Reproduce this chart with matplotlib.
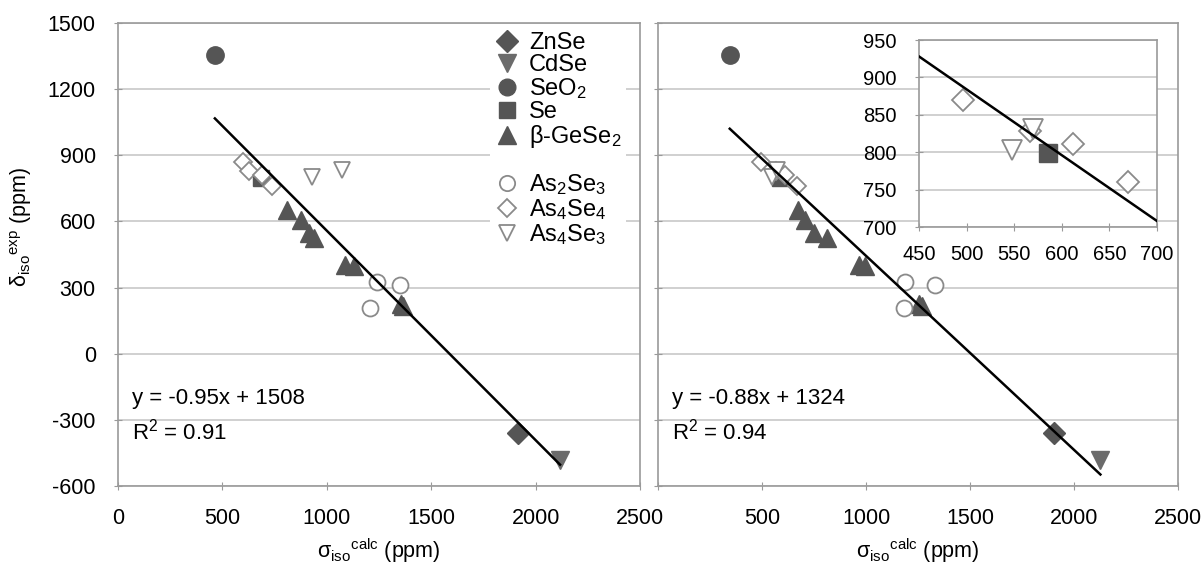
import matplotlib
matplotlib.use('Agg')
import matplotlib.pyplot as plt
from matplotlib.lines import Line2D

plt.rcParams['font.family'] = ['Liberation Sans', 'DejaVu Sans']
plt.rcParams['mathtext.fontset'] = 'custom'
plt.rcParams['mathtext.rm'] = 'Liberation Sans'
plt.rcParams['mathtext.it'] = 'Liberation Sans:italic'
plt.rcParams['axes.unicode_minus'] = False

# experimental shifts (same in both panels), calc shieldings per panel
zn_exp = [-361]
zn_left = [1916]
zn_right = [1903]

cd_exp = [-484]
cd_left = [2117]
cd_right = [2127]

seo2_exp = [1357]
seo2_left = [464]
seo2_right = [345]

se_exp = [799]
se_left = [685]
se_right = [586]

gese2_exp = [650, 608, 548, 523, 403, 397, 224, 218]
gese2_left = [810, 875, 913, 941, 1086, 1132, 1355, 1365]
gese2_right = [672, 709, 752, 811, 964, 993, 1253, 1269]

as2se3_exp = [325, 312, 209]
as2se3_left = [1242, 1350, 1205]
as2se3_right = [1188, 1334, 1181]

as4se4_exp = [870, 828, 811, 760]
as4se4_left = [601, 626, 688, 738]
as4se4_right = [496, 567, 612, 670]

as4se3_exp = [803, 831]
as4se3_left = [931, 1075]
as4se3_right = [548, 570]

fit_left = (-0.95, 1508, 0.91)
fit_right = (-0.88, 1324, 0.94)

x_ticks = [0, 500, 1000, 1500, 2000, 2500]
y_ticks = [-600, -300, 0, 300, 600, 900, 1200, 1500]
inset_xticks = [450, 500, 550, 600, 650, 700]
inset_yticks = [700, 750, 800, 850, 900, 950]

dark = '#555555'
cdcol = '#6b6b6b'
opencol = '#8a8a8a'
gridcol = '#c8c8c8'
framecol = '#9a9a9a'


def draw_points(ax, xs, scale=1.0):
    # xs: dict of calc values for this panel
    ax.plot(xs['zn'], zn_exp, 'D', color=dark, ms=11 * scale, ls='none')
    ax.plot(xs['cd'], cd_exp, 'v', color=cdcol, ms=13 * scale, ls='none')
    ax.plot(xs['seo2'], seo2_exp, 'o', color=dark, ms=12.5 * scale, ls='none')
    ax.plot(xs['se'], se_exp, 's', color=dark, ms=11 * scale, ls='none')
    ax.plot(xs['gese2'], gese2_exp, '^', color=dark, ms=13 * scale, ls='none')
    ax.plot(xs['as2se3'], as2se3_exp, 'o', mfc='white', mec=opencol, mew=1.3, ms=11.5 * scale, ls='none')
    ax.plot(xs['as4se4'], as4se4_exp, 'D', mfc='white', mec=opencol, mew=1.3, ms=9.5 * scale, ls='none')
    ax.plot(xs['as4se3'], as4se3_exp, 'v', mfc='white', mec=opencol, mew=1.3, ms=12 * scale, ls='none')


def style_axes(ax):
    for s in ax.spines.values():
        s.set_color(framecol)
        s.set_linewidth(1.2)
    ax.set_xlim(0, 2500)
    ax.set_ylim(-600, 1500)
    ax.set_xticks(x_ticks)
    ax.set_yticks(y_ticks)
    ax.yaxis.grid(True, color=gridcol, lw=1.2)
    ax.set_axisbelow(True)
    ax.tick_params(direction='inout', length=6, color=framecol, labelsize=15.5, pad=13)


left_data = dict(zn=zn_left, cd=cd_left, seo2=seo2_left, se=se_left, gese2=gese2_left,
                 as2se3=as2se3_left, as4se4=as4se4_left, as4se3=as4se3_left)
right_data = dict(zn=zn_right, cd=cd_right, seo2=seo2_right, se=se_right, gese2=gese2_right,
                  as2se3=as2se3_right, as4se4=as4se4_right, as4se3=as4se3_right)

W, H = 1204, 563
fig = plt.figure(figsize=(W / 100, H / 100), dpi=100)
ax1 = fig.add_axes([118 / W, 1 - 486 / H, 522 / W, 463 / H])
ax2 = fig.add_axes([658 / W, 1 - 486 / H, 520 / W, 463 / H])

for ax, data, fit in [(ax1, left_data, fit_left), (ax2, right_data, fit_right)]:
    style_axes(ax)
    draw_points(ax, data)
    allx = sum(data.values(), [])
    x0, x1 = min(allx), max(allx)
    m, b, r2 = fit
    ax.plot([x0, x1], [m * x0 + b, m * x1 + b], color='black', lw=1.8, zorder=4)
    ax.text(0.027, 0.19, f'y = {m:.2f}x + {b}', transform=ax.transAxes,
            fontsize=16, va='center', ha='left')
    ax.text(0.027, 0.117, f'R$^2$ = {r2:.2f}', transform=ax.transAxes,
            fontsize=16, va='center', ha='left')
    ax.set_xlabel('σ$_{\\mathrm{iso}}$$^{\\mathrm{calc}}$ (ppm)', fontsize=15.5, labelpad=5)

ax1.set_ylabel('δ$_{\\mathrm{iso}}$$^{\\mathrm{exp}}$ (ppm)', fontsize=15.5)
ax1.yaxis.set_label_coords(-0.16, 0.56)
ax2.tick_params(labelleft=False)
ax2.set_xticklabels([''] + [str(t) for t in x_ticks[1:]])

# legend
handles = [
    Line2D([], [], marker='D', color=dark, ls='none', ms=11),
    Line2D([], [], marker='v', color=cdcol, ls='none', ms=13),
    Line2D([], [], marker='o', color=dark, ls='none', ms=12),
    Line2D([], [], marker='s', color=dark, ls='none', ms=11),
    Line2D([], [], marker='^', color=dark, ls='none', ms=13),
    Line2D([], [], ls='none'),
    Line2D([], [], marker='o', mfc='white', mec=opencol, mew=1.3, ls='none', ms=11),
    Line2D([], [], marker='D', mfc='white', mec=opencol, mew=1.3, ls='none', ms=9.5),
    Line2D([], [], marker='v', mfc='white', mec=opencol, mew=1.3, ls='none', ms=12),
]
labels = ['ZnSe', 'CdSe', 'SeO$_2$', 'Se', 'β-GeSe$_2$', '',
          'As$_2$Se$_3$', 'As$_4$Se$_4$', 'As$_4$Se$_3$']
leg = ax1.legend(handles, labels, loc='upper left', bbox_to_anchor=(0.713, 0.99),
                 fontsize=17, frameon=True, facecolor='white', edgecolor='none',
                 framealpha=1, labelspacing=0.0, handlelength=1.0, handletextpad=0.45,
                 borderpad=0.2, borderaxespad=0)

# inset
axi = fig.add_axes([919 / W, 1 - 227 / H, 238 / W, 187 / H])
for s in axi.spines.values():
    s.set_color(framecol)
    s.set_linewidth(1.2)
axi.set_facecolor('white')
axi.set_xlim(450, 700)
axi.set_ylim(700, 950)
axi.set_xticks(inset_xticks)
axi.set_yticks(inset_yticks)
axi.yaxis.grid(True, color=gridcol, lw=1.2)
axi.set_axisbelow(True)
axi.tick_params(direction='inout', length=6, color=framecol, labelsize=14.5)
axi.tick_params(axis='y', pad=13)
axi.tick_params(axis='x', pad=10)
draw_points(axi, right_data, scale=1.15)
m, b, _ = fit_right
axi.plot([450, 700], [m * 450 + b, m * 700 + b], color='black', lw=1.8, zorder=4)

fig.savefig('out.png', dpi=100)
